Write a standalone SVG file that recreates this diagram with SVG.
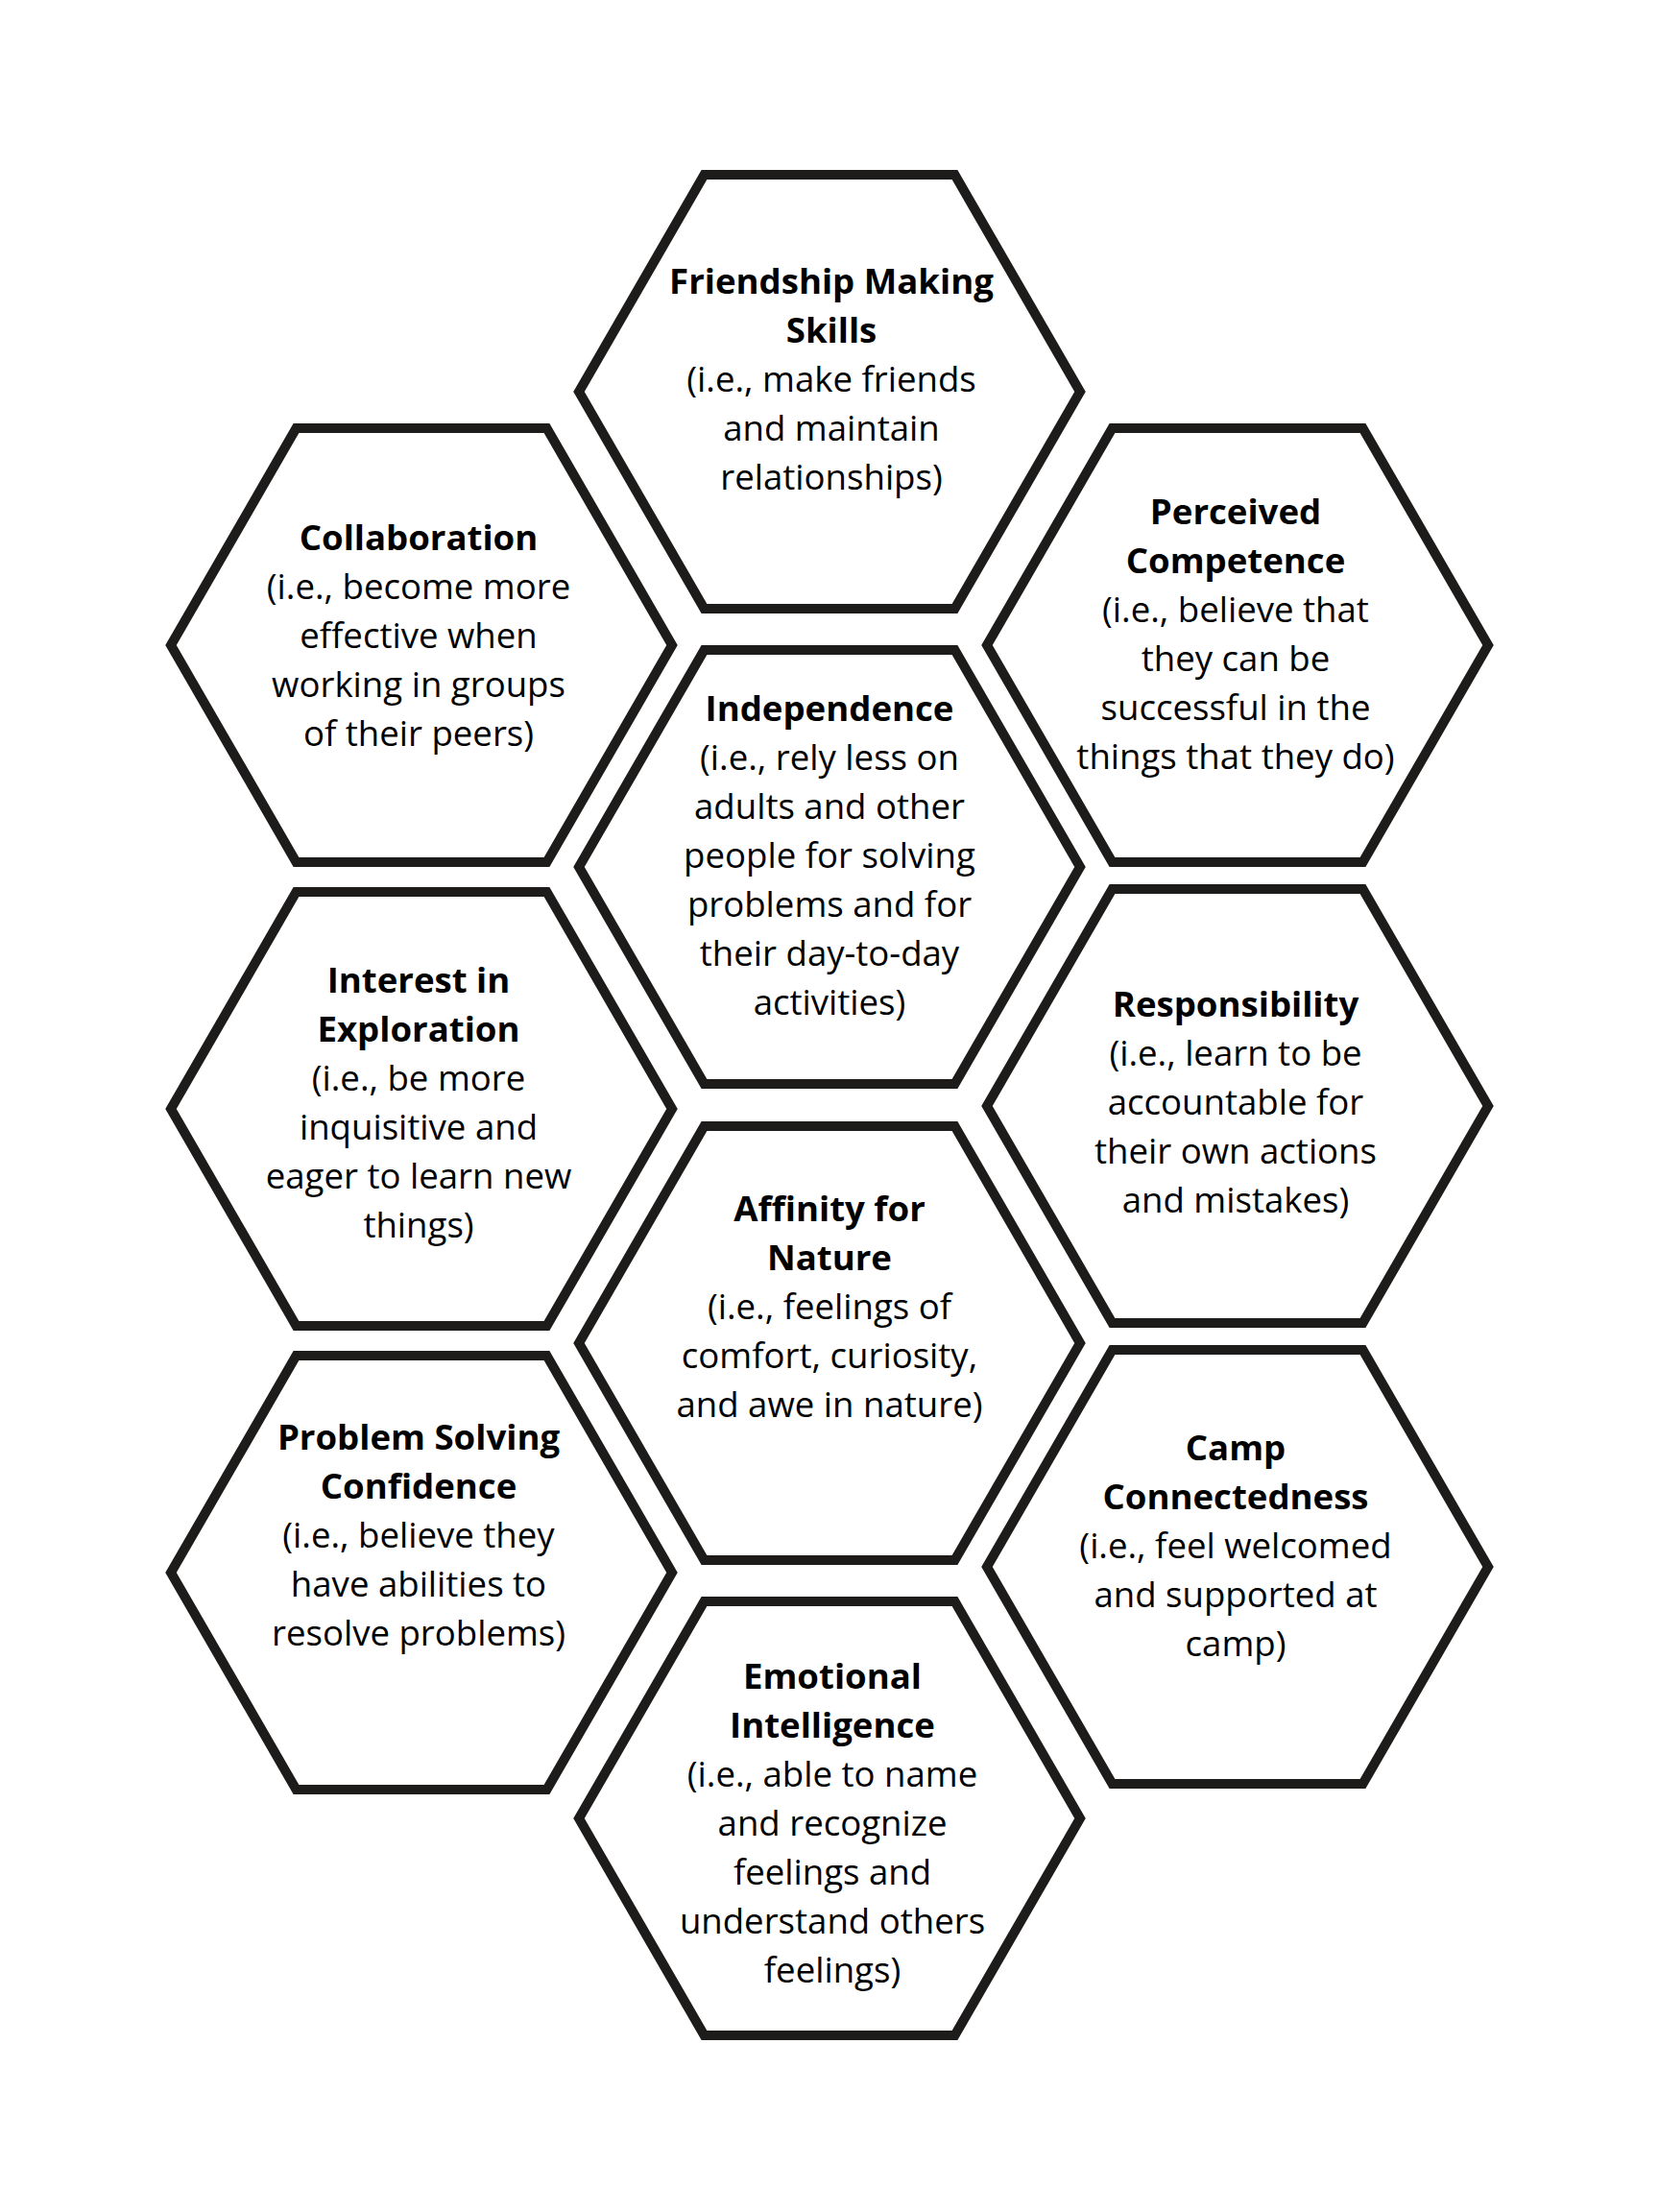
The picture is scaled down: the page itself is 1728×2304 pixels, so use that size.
<svg xmlns="http://www.w3.org/2000/svg" xmlns:xlink="http://www.w3.org/1999/xlink" width="1728" height="2304" viewBox="0 0 1728 2304">
<style>
.hex{fill:#ffffff;stroke:#1e1b1b;stroke-width:10;stroke-linejoin:miter}
text{font-family:"Open Sans","DejaVu Sans",sans-serif;font-size:36.6px;fill:#000;text-anchor:middle}
.t{font-weight:700}
</style>
<defs>
<polygon id="hex" points="-261,0 -130.5,-226 130.5,-226 261,0 130.5,226 -130.5,226"/>
</defs>
<rect width="1728" height="2304" fill="#ffffff"/>
<g id="connectors"/>
<g id="friendship">
<use xlink:href="#hex" href="#hex" class="hex" x="864" y="408"/>
<text x="866" y="306"><tspan class="t">Friendship Making</tspan><tspan class="t" x="866" dy="51">Skills</tspan><tspan x="866" dy="51">(i.e., make friends</tspan><tspan x="866" dy="51">and maintain</tspan><tspan x="866" dy="51">relationships)</tspan></text>
</g>
<g id="collaboration">
<use xlink:href="#hex" href="#hex" class="hex" x="439" y="672"/>
<text x="436" y="573"><tspan class="t">Collaboration</tspan><tspan x="436" dy="51">(i.e., become more</tspan><tspan x="436" dy="51">effective when</tspan><tspan x="436" dy="51">working in groups</tspan><tspan x="436" dy="51">of their peers)</tspan></text>
</g>
<g id="perceived-competence">
<use xlink:href="#hex" href="#hex" class="hex" x="1289" y="672"/>
<text x="1287" y="546"><tspan class="t">Perceived</tspan><tspan class="t" x="1287" dy="51">Competence</tspan><tspan x="1287" dy="51">(i.e., believe that</tspan><tspan x="1287" dy="51">they can be</tspan><tspan x="1287" dy="51">successful in the</tspan><tspan x="1287" dy="51">things that they do)</tspan></text>
</g>
<g id="independence">
<use xlink:href="#hex" href="#hex" class="hex" x="864" y="903"/>
<text x="864" y="751"><tspan class="t">Independence</tspan><tspan x="864" dy="51">(i.e., rely less on</tspan><tspan x="864" dy="51">adults and other</tspan><tspan x="864" dy="51">people for solving</tspan><tspan x="864" dy="51">problems and for</tspan><tspan x="864" dy="51">their day-to-day</tspan><tspan x="864" dy="51">activities)</tspan></text>
</g>
<g id="interest-in-exploration">
<use xlink:href="#hex" href="#hex" class="hex" x="439" y="1155"/>
<text x="436" y="1034"><tspan class="t">Interest in</tspan><tspan class="t" x="436" dy="51">Exploration</tspan><tspan x="436" dy="51">(i.e., be more</tspan><tspan x="436" dy="51">inquisitive and</tspan><tspan x="436" dy="51">eager to learn new</tspan><tspan x="436" dy="51">things)</tspan></text>
</g>
<g id="responsibility">
<use xlink:href="#hex" href="#hex" class="hex" x="1289" y="1152"/>
<text x="1287" y="1059"><tspan class="t">Responsibility</tspan><tspan x="1287" dy="51">(i.e., learn to be</tspan><tspan x="1287" dy="51">accountable for</tspan><tspan x="1287" dy="51">their own actions</tspan><tspan x="1287" dy="51">and mistakes)</tspan></text>
</g>
<g id="affinity-for-nature">
<use xlink:href="#hex" href="#hex" class="hex" x="864" y="1399"/>
<text x="864" y="1272"><tspan class="t">Affinity for</tspan><tspan class="t" x="864" dy="51">Nature</tspan><tspan x="864" dy="51">(i.e., feelings of</tspan><tspan x="864" dy="51">comfort, curiosity,</tspan><tspan x="864" dy="51">and awe in nature)</tspan></text>
</g>
<g id="problem-solving-confidence">
<use xlink:href="#hex" href="#hex" class="hex" x="439" y="1638"/>
<text x="436" y="1510"><tspan class="t">Problem Solving</tspan><tspan class="t" x="436" dy="51">Confidence</tspan><tspan x="436" dy="51">(i.e., believe they</tspan><tspan x="436" dy="51">have abilities to</tspan><tspan x="436" dy="51">resolve problems)</tspan></text>
</g>
<g id="camp-connectedness">
<use xlink:href="#hex" href="#hex" class="hex" x="1289" y="1632"/>
<text x="1287" y="1521"><tspan class="t">Camp</tspan><tspan class="t" x="1287" dy="51">Connectedness</tspan><tspan x="1287" dy="51">(i.e., feel welcomed</tspan><tspan x="1287" dy="51">and supported at</tspan><tspan x="1287" dy="51">camp)</tspan></text>
</g>
<g id="emotional-intelligence">
<use xlink:href="#hex" href="#hex" class="hex" x="864" y="1894"/>
<text x="867" y="1759"><tspan class="t">Emotional</tspan><tspan class="t" x="867" dy="51">Intelligence</tspan><tspan x="867" dy="51">(i.e., able to name</tspan><tspan x="867" dy="51">and recognize</tspan><tspan x="867" dy="51">feelings and</tspan><tspan x="867" dy="51">understand others</tspan><tspan x="867" dy="51">feelings)</tspan></text>
</g>
</svg>
